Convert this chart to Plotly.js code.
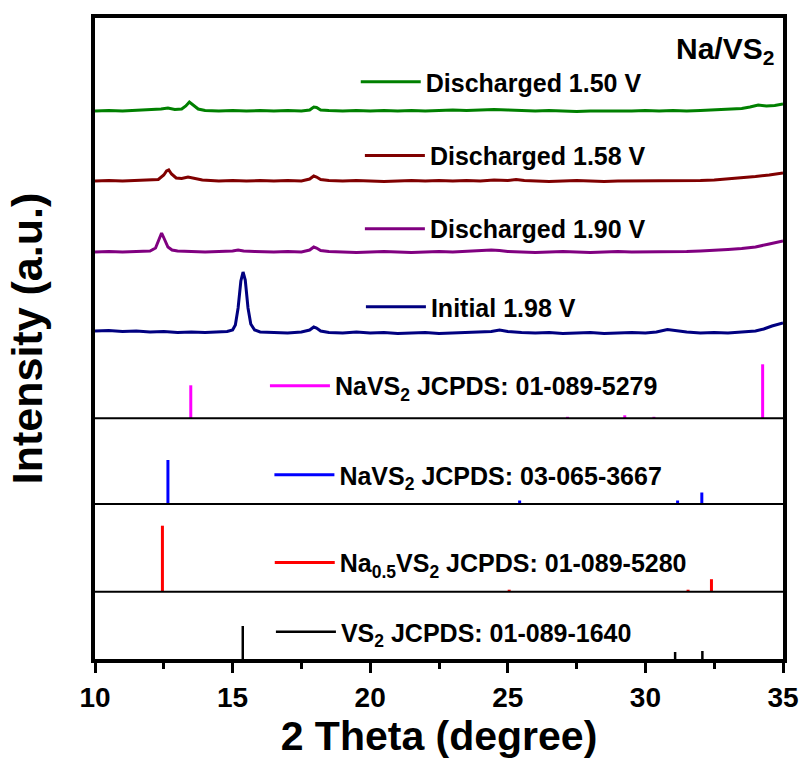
<!DOCTYPE html>
<html><head><meta charset="utf-8">
<script src="https://cdn.plot.ly/plotly-3.0.1.min.js"></script>
<style>body{margin:0;background:#fff}#chart{width:808px;height:760px}</style>
</head><body><div id="chart"></div>
<script>
// ---------- XRD patterns (2θ, intensity above own baseline) ----------
const initX = [10,10.5,11,11.5,12,12.5,13,13.5,14,14.5,14.8,15.0,15.1,15.2,15.3,15.38,15.46,15.56,15.66,15.8,16.0,16.5,17,17.5,17.8,17.95,18.05,18.2,18.5,19,19.5,20,20.5,21,21.5,22,22.5,23,23.5,24,24.4,24.7,25,25.5,26,26.5,27,27.5,28,28.5,29,29.5,30,30.4,30.8,31.2,31.5,32,32.5,33,33.5,34,34.3,34.6,35];
const initY = [2,2.5,1.5,2,1,1.5,0.5,1,0.5,1,1.5,3,8,25,52,61,53,25,9,3,1,0.5,0,1,3,6,5,2,0.5,0,1,0,0.5,-0.5,0,0.5,-0.5,0,0.5,1,1.5,3,1.5,0.5,0,0.5,-0.5,0,0.5,-0.5,0,0.5,0,1,3.5,2,1,0,0.5,0,1,2,4,7,10];

const d190X = [10,10.5,11,11.5,12,12.2,12.32,12.42,12.52,12.65,12.8,13,13.5,14,14.5,15,15.2,15.4,15.8,16.5,17,17.5,17.8,17.95,18.05,18.2,18.5,19,19.5,20,20.5,21,21.5,22,22.5,23,23.5,24,24.4,24.7,25,25.5,26,26.5,27,27.5,28,28.5,29,29.5,30,30.5,31,31.5,32,32.5,33,33.5,34,34.5,35];
const d190Y = [0,0.5,0,0.5,1,4,13,19,13,5,2,1,0.5,0,0.5,1,2,1,0.5,0,0.5,0,2,5,4,1.5,0.5,0,-0.5,0,0.5,0,-0.5,0,0.5,0,0.5,1,2,1.5,0.5,0,-0.5,0,0.5,0,-0.5,0,0.5,0,0,0.5,0,0.5,1,1.5,2.5,3.5,5,8,11];

const d158X = [10,10.5,11,11.5,12,12.3,12.5,12.6,12.68,12.78,12.95,13.15,13.38,13.6,13.9,14.5,15,15.5,16,16.5,17,17.5,17.8,17.95,18.05,18.2,18.5,19,19.5,20,20.5,21,21.5,22,22.5,23,23.5,24,24.5,25,25.3,25.6,26,26.5,27,27.5,28,28.5,29,29.5,30,30.5,31,31.5,32,32.5,33,33.5,34,34.5,35];
const d158Y = [0,0.5,0,0.5,0.5,1.5,6,10,11,7,3,2.5,4,2.5,1,0,0.5,0,0.5,0,0.5,0,2,5,4,1.5,0.5,0,0.5,0,-0.5,0,0.5,0,0.5,0,0.5,0,1,0.5,1.5,0.5,0,-0.5,0,0.5,0,-0.5,0,0,0.5,0,0.5,0,0.5,1,2,3,4.5,6,8];

const d150X = [10,10.5,11,11.5,12,12.4,12.65,12.9,13.15,13.3,13.43,13.56,13.75,14,14.5,15,15.5,16,16.5,17,17.5,17.8,17.95,18.05,18.2,18.5,19,19.5,20,20.5,21,21.5,22,22.5,23,23.5,24,24.5,25,25.5,26,26.5,27,27.5,28,28.5,29,29.5,30,30.5,31,31.5,32,32.5,33,33.5,33.8,34.1,34.4,34.7,35];
const d150Y = [0,0.5,0,0.5,1,2,3,1.5,2,5,9,6,2,0.5,0,0.5,0,0.5,0,0.5,0,1,4,3.5,1,0.5,0,0.5,0,0.5,0,0.5,0,0.5,1,0.5,1,1.5,1,0.5,0,0.5,0,-0.5,0,0,-0.5,0,0.5,0,0.5,0,0.5,1,1.5,2.5,4,6,5,5.5,7];

// ---------- Reference stick patterns ----------
const vs2Pos   = [15.37, 31.08, 32.07];
const vs2Int   = [35, 9, 10];
const na05Pos  = [12.45, 25.05, 31.55, 32.40];
const na05Int  = [66, 2, 2, 12.5];
const nav3667Pos = [12.65, 25.43, 31.17, 32.05];
const nav3667Int = [44, 3.5, 3.5, 11.5];
const nav5279Pos = [13.48, 27.17, 29.25, 30.31, 34.26];
const nav5279Int = [33, 1.5, 3, 1.5, 54];

const names = ['Discharged 1.50 V','Discharged 1.58 V','Discharged 1.90 V','Initial 1.98 V',
  'NaVS<sub>2</sub> JCPDS: 01-089-5279','NaVS<sub>2</sub> JCPDS: 03-065-3667',
  'Na<sub>0.5</sub>VS<sub>2</sub> JCPDS: 01-089-5280','VS<sub>2</sub> JCPDS: 01-089-1640'];

// vertical offsets (stacking) and panel separators
const offsets = {d150:550, d158:480, d190:409, init:328, n5279:242.7, n3667:157, na05:69.3, vs2:0};
const F = 'Liberation Sans, Arial, sans-serif';

function shift(arr, o){ return arr.map(v => v + o); }
function sticks(pos, inten, base){
  const x = [], y = [];
  pos.forEach((p,i)=>{ x.push(p,p,null); y.push(base, base+inten[i], null); });
  return {x, y};
}

const traces = [];
function curve(x, y, o, color, name, leg){
  traces.push({x, y: shift(y,o), mode:'lines', line:{color, width:3}, name, legend:leg, showlegend:true, hoverinfo:'skip'});
}
function stk(pos, inten, o, color, w, name, leg){
  const s = sticks(pos, inten, o);
  traces.push({x:s.x, y:s.y, mode:'lines', line:{color, width:w}, name, legend:leg, showlegend:true, hoverinfo:'skip'});
}
curve(d150X, d150Y, offsets.d150, '#008000', names[0], 'legend');
curve(d158X, d158Y, offsets.d158, '#800000', names[1], 'legend2');
curve(d190X, d190Y, offsets.d190, '#800080', names[2], 'legend3');
curve(initX, initY, offsets.init, '#000080', names[3], 'legend4');
stk(nav5279Pos, nav5279Int, offsets.n5279, '#FF00FF', 3, names[4], 'legend5');
stk(nav3667Pos, nav3667Int, offsets.n3667, '#0000FF', 3, names[5], 'legend6');
stk(na05Pos, na05Int, offsets.na05, '#FF0000', 3, names[6], 'legend7');
stk(vs2Pos, vs2Int, offsets.vs2, '#000000', 2.5, names[7], 'legend8');

function leg(x, y){
  return {x, y, xref:'paper', yref:'paper', xanchor:'left', yanchor:'middle',
    bgcolor:'rgba(0,0,0,0)', borderwidth:0, itemwidth:60,
    font:{family:F, size:25, weight:'bold', color:'#000'}};
}

const sep = [offsets.n5279, offsets.n3667, offsets.na05].map(v => ({
  type:'line', xref:'paper', x0:0, x1:1, yref:'y', y0:v, y1:v, line:{color:'#000', width:2}}));

const layout = {
  width:808, height:760,
  margin:{l:95, r:25, t:18, b:101},
  paper_bgcolor:'#fff', plot_bgcolor:'#fff',
  showlegend:true,
  font:{family:F, color:'#000'},
  xaxis:{range:[10,35], showgrid:false, zeroline:false, showline:true, linewidth:4, linecolor:'#000', mirror:true,
    ticks:'outside', ticklen:10, tickwidth:3, tickcolor:'#000', dtick:5, tick0:10,
    tickfont:{family:F, size:28, weight:'bold', color:'#000'},
    minor:{ticks:'outside', ticklen:6, tickwidth:3, tickcolor:'#000', dtick:2.5},
    title:{text:'2 Theta (degree)', font:{family:F, size:41, weight:'bold', color:'#000'}, standoff:8}},
  yaxis:{range:[2,643], showgrid:false, zeroline:false, showline:true, linewidth:4, linecolor:'#000', mirror:true,
    ticks:'', showticklabels:false,
    title:{text:'Intensity (a.u.)', font:{family:F, size:43, weight:'bold', color:'#000'}, standoff:36}},
  legend: leg(0.379, 0.900),
  legend2: leg(0.385, 0.785),
  legend3: leg(0.385, 0.671),
  legend4: leg(0.3865, 0.549),
  legend5: leg(0.247, 0.426),
  legend6: leg(0.2535, 0.287),
  legend7: leg(0.254, 0.150),
  legend8: leg(0.2557, 0.042),
  shapes: sep,
  annotations:[{text:'Na/VS<sub>2</sub>', xref:'paper', yref:'paper', x:0.99, y:0.950, xanchor:'right', yanchor:'middle',
    showarrow:false, font:{family:F, size:30, weight:'bold', color:'#000'}}]
};

Plotly.newPlot('chart', traces, layout, {displayModeBar:false, staticPlot:true});
</script></body></html>
